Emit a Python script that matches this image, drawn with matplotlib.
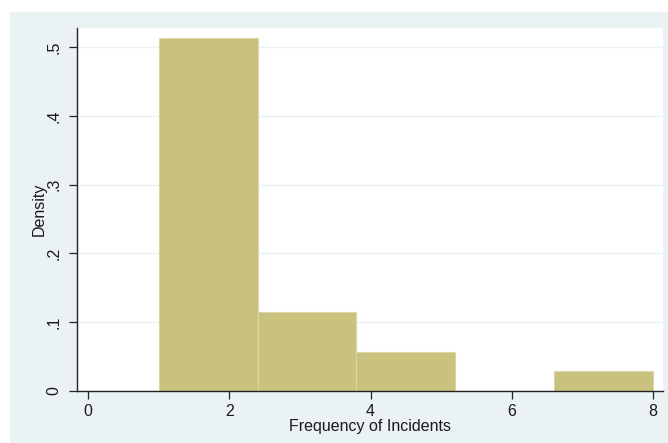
import matplotlib
matplotlib.use("Agg")
import matplotlib.pyplot as plt
from matplotlib.patches import Rectangle

# Data
bin_edges = [1.0, 2.4, 3.8, 5.2, 6.6, 8.0]
densities = [0.514, 0.114, 0.057, 0.0, 0.0286]
x_ticks = [0, 2, 4, 6, 8]
x_tick_labels = ["0", "2", "4", "6", "8"]
y_ticks = [0, 0.1, 0.2, 0.3, 0.4, 0.5]
y_tick_labels = ["0", ".1", ".2", ".3", ".4", ".5"]

plt.rcParams['font.family'] = ['Liberation Sans', 'DejaVu Sans']

W, H = 668, 443
fig = plt.figure(figsize=(W/100, H/100), dpi=100, facecolor='white')
bg = '#EAF2F3'
fig.patches.append(Rectangle((10/W, 0), 1 - 10/W, (H-12)/H, transform=fig.transFigure,
                             facecolor=bg, edgecolor='none', zorder=-10))

left, right = 77/W, 663.3/W
bottom, top = (H-390.7)/H, (H-28)/H
ax = fig.add_axes([left, bottom, right-left, top-bottom])
ax.set_zorder(5)
ax.set_facecolor('white')

widths = [bin_edges[i+1]-bin_edges[i] for i in range(len(densities))]
ax.bar(bin_edges[:-1], densities, width=widths, align='edge',
       color='#C9C17E', edgecolor='#DCD6A4', linewidth=0.8, zorder=2)

ax.set_xlim(-0.16, 8.15)
ax.set_ylim(0, 0.528)

for y in y_ticks[1:]:
    ax.axhline(y, color='#EAF2F3', linewidth=1.0, zorder=1)

ax.set_xticks(x_ticks)
ax.set_xticklabels(x_tick_labels)
ax.set_yticks(y_ticks)
ax.set_yticklabels(y_tick_labels, rotation=90, va='center')

ax.tick_params(axis='both', direction='out', length=5.5, width=0.9, color='#222222',
               labelsize=11.5, labelcolor='#1a1a1a')
ax.tick_params(axis='x', pad=4)
ax.tick_params(axis='y', pad=6)

for s in ['top', 'right']:
    ax.spines[s].set_visible(False)
for s in ['left', 'bottom']:
    ax.spines[s].set_color('#222222')
    ax.spines[s].set_linewidth(1.0)

ax.set_xlabel('Frequency of Incidents', fontsize=11.5, color='#1a1a1a')
ax.set_ylabel('Density', fontsize=11.5, color='#1a1a1a')
ax.xaxis.set_label_coords(0.5, -(418.5 - 390.7) / 362.7)
ax.yaxis.set_label_coords(-(77 - 47) / 586.3, 0.5)

fig.savefig('out.png', dpi=100, facecolor='white')
